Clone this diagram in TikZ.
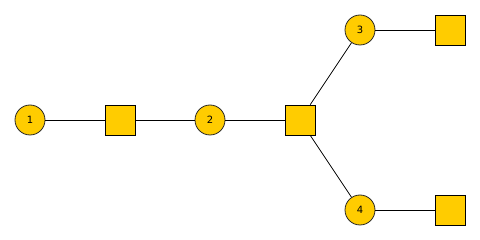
\documentclass[tikz,border=0pt]{standalone}
\usepackage{fontspec}
\setsansfont{DejaVu Sans}
\usepackage{xcolor}
\usepackage{tikz}
\usetikzlibrary{positioning}
\definecolor{mygold}{RGB}{255,204,0}
\definecolor{mydark}{RGB}{40,40,40}
\tikzset{
  varnode/.style={circle, draw=mydark, fill=mygold, minimum size=30pt,
    inner sep=0pt, font=\sffamily\fontsize{10}{12}\selectfont, line width=0.8pt},
  facnode/.style={rectangle, draw=black, fill=mygold, minimum size=30pt,
    inner sep=0pt, line width=0.8pt},
  link/.style={line width=0.8pt, color=black}
}
\begin{document}
\begin{tikzpicture}[x=1pt, y=-1pt]
  \useasboundingbox (0,0) rectangle (480,240);

  % Variables
  \node[varnode] (v1) at (30,120) {1};
  \node[varnode] (v2) at (210,120) {2};
  \node[varnode] (v3) at (360,30) {3};
  \node[varnode] (v4) at (360,210) {4};

  % Factors
  \node[facnode] (f1) at (120,120) {};
  \node[facnode] (f2) at (300,120) {};
  \node[facnode] (f3) at (450,30) {};
  \node[facnode] (f4) at (450,210) {};

  % Edges
  \draw[link] (v1) -- (f1);
  \draw[link] (f1) -- (v2);
  \draw[link] (v2) -- (f2);
  \draw[link] (f2) -- (v3);
  \draw[link] (f2) -- (v4);
  \draw[link] (v3) -- (f3);
  \draw[link] (v4) -- (f4);
\end{tikzpicture}
\end{document}
